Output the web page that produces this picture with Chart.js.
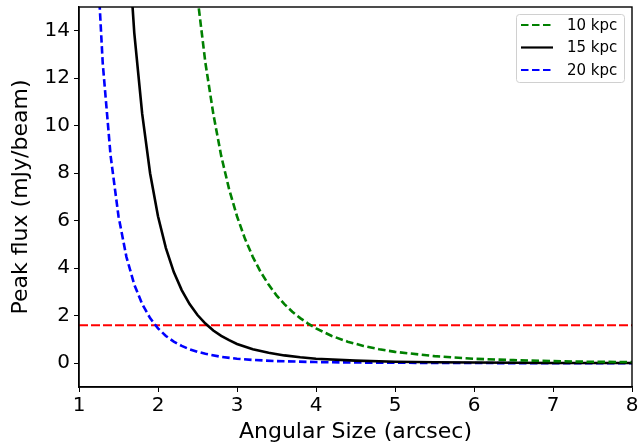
<!DOCTYPE html>
<html>
<head>
<meta charset="utf-8">
<script src="https://cdn.jsdelivr.net/npm/chart.js@4"></script>
<style>
  html, body { margin: 0; padding: 0; background: #fff; }
  #wrap { width: 639px; height: 447px; }
</style>
</head>
<body>
<div id="wrap"><canvas id="chart" width="639" height="447"></canvas></div>
<script>
// --- Data ---
const xTicks = [1, 2, 3, 4, 5, 6, 7, 8];
const yTicks = [0, 2, 4, 6, 8, 10, 12, 14];
const threshold = 1.6; // red dashed line, mJy/beam

// 10 kpc (green dashed)
const x10 = [2.5, 2.6, 2.7, 2.8, 2.9, 3.0, 3.1, 3.2, 3.3, 3.4, 3.5, 3.6, 3.7, 3.8, 3.9, 4.0, 4.2, 4.4, 4.6, 4.8, 5.0, 5.5, 6.0, 6.5, 7.0, 7.5, 8.0];
const y10 = [15.4, 12.65, 10.5, 8.73, 7.33, 6.19, 5.25, 4.48, 3.84, 3.31, 2.86, 2.49, 2.17, 1.90, 1.67, 1.47, 1.15, 0.91, 0.73, 0.59, 0.48, 0.30, 0.19, 0.13, 0.09, 0.06, 0.05];

// 15 kpc (black solid)
const x15 = [1.6, 1.7, 1.8, 1.9, 2.0, 2.1, 2.2, 2.3, 2.4, 2.5, 2.6, 2.7, 2.8, 2.9, 3.0, 3.2, 3.4, 3.6, 3.8, 4.0, 4.5, 5.0, 5.5, 6.0, 7.0, 8.0];
const y15 = [18.9, 13.9, 10.5, 8.0, 6.19, 4.85, 3.84, 3.08, 2.49, 2.03, 1.67, 1.38, 1.15, 0.97, 0.81, 0.59, 0.44, 0.33, 0.25, 0.19, 0.11, 0.06, 0.04, 0.03, 0.01, 0.01];

// 20 kpc (blue dashed)
const x20 = [1.2, 1.3, 1.4, 1.5, 1.6, 1.7, 1.8, 1.9, 2.0, 2.1, 2.2, 2.3, 2.4, 2.5, 2.6, 2.8, 3.0, 3.2, 3.5, 4.0, 4.5, 5.0, 6.0, 7.0, 8.0];
const y20 = [18.9, 12.65, 8.74, 6.19, 4.48, 3.31, 2.49, 1.90, 1.47, 1.15, 0.91, 0.73, 0.59, 0.48, 0.40, 0.27, 0.19, 0.14, 0.09, 0.05, 0.03, 0.02, 0.01, 0.0, 0.0];

const pts = (xs, ys) => xs.map((x, i) => ({ x: x, y: ys[i] }));

const FONT = "'DejaVu Sans', sans-serif";

// box around the whole axes, like matplotlib spines
const frame = {
    id: 'frame',
    afterDraw(chart) {
        const { ctx, chartArea: a } = chart;
        ctx.save();
        ctx.strokeStyle = '#000';
        ctx.lineWidth = 1.4;
        ctx.strokeRect(a.left, a.top, a.right - a.left, a.bottom - a.top);
        ctx.restore();
    }
};

// legend drawn inside the plot, top right
const innerLegend = {
    id: 'innerLegend',
    afterDraw(chart) {
        const { ctx, chartArea: a } = chart;
        const items = chart.data.datasets.filter(d => d.label);
        const w = 108, rowH = 22.5, h = 68;
        const x0 = a.right - w - 8, y0 = a.top + 7;
        ctx.save();
        ctx.fillStyle = 'rgba(255,255,255,0.8)';
        ctx.strokeStyle = '#d0d0d0';
        ctx.lineWidth = 1;
        ctx.beginPath();
        ctx.roundRect(x0 + 0.5, y0 + 0.5, w, h, 3);
        ctx.fill();
        ctx.stroke();
        ctx.font = '15px ' + FONT;
        ctx.textBaseline = 'middle';
        items.forEach((d, i) => {
            const y = y0 + 11 + i * rowH;
            ctx.strokeStyle = d.borderColor;
            ctx.lineWidth = 2.2;
            ctx.setLineDash(d.borderDash || []);
            ctx.beginPath();
            ctx.moveTo(x0 + 5, y);
            ctx.lineTo(x0 + 37, y);
            ctx.stroke();
            ctx.setLineDash([]);
            ctx.fillStyle = '#000';
            ctx.fillText(d.label, x0 + 51, y + 1);
        });
        ctx.restore();
    }
};

const ctx = document.getElementById('chart').getContext('2d');
new Chart(ctx, {
    type: 'line',
    data: {
        datasets: [
            { label: '10 kpc', data: pts(x10, y10), borderColor: '#008000', borderWidth: 2.6, borderDash: [7.5, 3.5], pointRadius: 0, tension: 0 },
            { label: '15 kpc', data: pts(x15, y15), borderColor: '#000000', borderWidth: 2.6, pointRadius: 0, tension: 0 },
            { label: '20 kpc', data: pts(x20, y20), borderColor: '#0000ff', borderWidth: 2.6, borderDash: [7.5, 3.5], pointRadius: 0, tension: 0 },
            { label: '', data: pts([1, 8], [threshold, threshold]), borderColor: '#ff0000', borderWidth: 2, borderDash: [9, 3], pointRadius: 0 }
        ]
    },
    options: {
        responsive: false,
        animation: false,
        layout: { padding: { top: 7, right: 7, left: 0, bottom: 0 } },
        plugins: { legend: { display: false }, tooltip: { enabled: false } },
        scales: {
            x: {
                type: 'linear', min: 1, max: 8,
                afterBuildTicks: s => { s.ticks = xTicks.map(v => ({ value: v })); },
                afterFit: s => { s.height = 60; s.paddingLeft = 0; s.paddingRight = 0; },
                grid: { drawOnChartArea: false, tickLength: 5, color: '#000', tickColor: '#000' },
                border: { color: '#000', width: 1.4 },
                ticks: { color: '#000', font: { family: FONT, size: 20 }, padding: 2, maxRotation: 0 },
                title: { display: true, text: 'Angular Size (arcsec)', color: '#000', font: { family: FONT, size: 22 }, padding: { top: 0, bottom: 2 } }
            },
            y: {
                type: 'linear', min: -1, max: 15,
                afterBuildTicks: s => { s.ticks = yTicks.map(v => ({ value: v })); },
                afterFit: s => { s.width = 79; s.paddingTop = 0; s.paddingBottom = 0; },
                grid: { drawOnChartArea: false, tickLength: 5, color: '#000', tickColor: '#000' },
                border: { color: '#000', width: 1.4 },
                ticks: { color: '#000', font: { family: FONT, size: 20 }, padding: 4 },
                title: { display: true, text: 'Peak flux (mJy/beam)', color: '#000', font: { family: FONT, size: 22 }, padding: { top: 8, bottom: 0 } }
            }
        }
    },
    plugins: [frame, innerLegend]
});
</script>
</body>
</html>
